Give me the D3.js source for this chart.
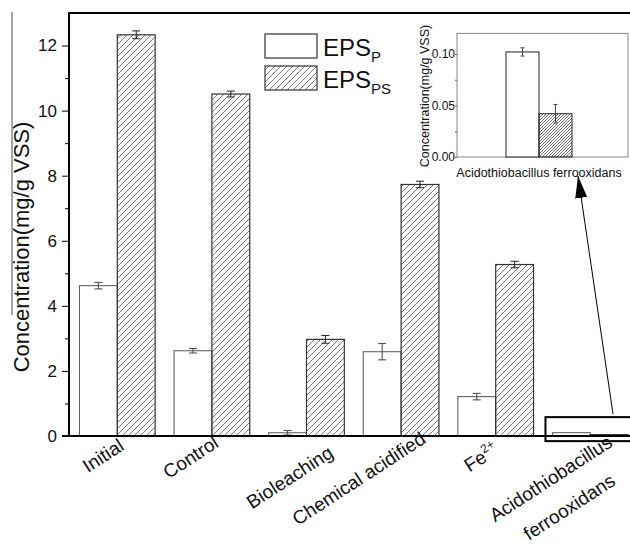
<!DOCTYPE html>
<html>
<head>
<meta charset="utf-8">
<script src="https://cdn.jsdelivr.net/npm/d3@7"></script>
<style>
  body { margin: 0; background: #fff; }
  text { font-family: "Liberation Sans", Arial, sans-serif; fill: #111; }
</style>
</head>
<body>
<svg width="630" height="555"></svg>
<script>
// data
var categories = ["Initial", "Control", "Bioleaching", "Chemical acidified", "Fe2+", "Acidothiobacillus ferrooxidans"];
var epsP   = [4.62, 2.62, 0.10, 2.59, 1.21, 0.102];
var epsPS  = [12.33, 10.51, 2.97, 7.73, 5.27, 0.042];
var errP   = [0.10, 0.07, 0.07, 0.25, 0.10, 0.004];
var errPS  = [0.12, 0.09, 0.12, 0.10, 0.10, 0.009];
var yTicks = [0, 2, 4, 6, 8, 10, 12];
var yMinor = [1, 3, 5, 7, 9, 11];
var insetTicks = [0, 0.05, 0.10];
var insetMinor = [0.025, 0.075];

var svg = d3.select("svg");

// hatch patterns
var defs = svg.append("defs");
defs.append("pattern")
    .attr("id", "hatch")
    .attr("patternUnits", "userSpaceOnUse")
    .attr("width", 6).attr("height", 6)
    .append("path")
    .attr("d", "M-1,1 l2,-2 M0,6 l6,-6 M5,7 l2,-2")
    .attr("stroke", "#555").attr("stroke-width", 0.8);
defs.append("pattern")
    .attr("id", "hatchDense")
    .attr("patternUnits", "userSpaceOnUse")
    .attr("width", 3).attr("height", 3)
    .append("path")
    .attr("d", "M-1,1 l2,-2 M0,3 l3,-3 M2,4 l2,-2")
    .attr("stroke", "#333").attr("stroke-width", 0.7);

// main scales
var x = d3.scaleBand().domain(categories).range([70, 637.6]).paddingInner(0.2).paddingOuter(0.1);
var y = d3.scaleLinear().domain([0, 13]).range([436, 13]);
var half = x.bandwidth() / 2;

var rows = categories.map(function (c, i) {
    return { cat: c, p: epsP[i], ps: epsPS[i], ep: errP[i], eps: errPS[i] };
});

// bars
var g = svg.append("g");
g.selectAll(".barP").data(rows).enter().append("rect")
    .attr("x", function (d) { return x(d.cat); })
    .attr("y", function (d) { return y(d.p); })
    .attr("width", half)
    .attr("height", function (d) { return y(0) - y(d.p); })
    .attr("fill", "#fff").attr("stroke", "#555").attr("stroke-width", 1);
g.selectAll(".barPS").data(rows).enter().append("rect")
    .attr("x", function (d) { return x(d.cat) + half; })
    .attr("y", function (d) { return y(d.ps); })
    .attr("width", half)
    .attr("height", function (d) { return y(0) - y(d.ps); })
    .attr("fill", "url(#hatch)").attr("stroke", "#333").attr("stroke-width", 1.2);

// error bars
function errBars(sel, data, xs, ys, val, err, cap, col) {
    var e = sel.selectAll(null).data(data).enter().append("g")
        .attr("stroke", col).attr("stroke-width", 1);
    e.append("line")
        .attr("x1", xs).attr("x2", xs)
        .attr("y1", function (d) { return ys(val(d) - err(d)); })
        .attr("y2", function (d) { return ys(val(d) + err(d)); });
    [-1, 1].forEach(function (s) {
        e.append("line")
            .attr("x1", function (d) { return xs(d) - cap; })
            .attr("x2", function (d) { return xs(d) + cap; })
            .attr("y1", function (d) { return ys(val(d) + s * err(d)); })
            .attr("y2", function (d) { return ys(val(d) + s * err(d)); });
    });
}
var mainRows = rows.slice(0, 5);
errBars(g, mainRows, function (d) { return x(d.cat) + half / 2; }, y,
    function (d) { return d.p; }, function (d) { return d.ep; }, 4, "#444");
errBars(g, mainRows, function (d) { return x(d.cat) + half * 1.5; }, y,
    function (d) { return d.ps; }, function (d) { return d.eps; }, 4, "#222");

// y axis
var yAxis = svg.append("g").attr("transform", "translate(69,0)")
    .call(d3.axisLeft(y).tickValues(yTicks).tickSize(7).tickPadding(5));
yAxis.select(".domain").attr("stroke-width", 2).attr("d", "M0," + y(13) + "V" + y(0));
yAxis.selectAll("text").style("font-size", "17px").style("font-family", "Liberation Sans, Arial, sans-serif").attr("fill", "#111");
svg.append("g").attr("transform", "translate(69,0)")
    .call(d3.axisLeft(y).tickValues(yMinor).tickSize(4).tickFormat(""))
    .select(".domain").remove();

// x axis line and top frame line
svg.append("line").attr("x1", 62).attr("x2", 630).attr("y1", y(0)).attr("y2", y(0))
    .attr("stroke", "#000").attr("stroke-width", 2);
svg.append("line").attr("x1", 68).attr("x2", 630).attr("y1", y(13)).attr("y2", y(13))
    .attr("stroke", "#000").attr("stroke-width", 2);

// stray grey line at the far left of the figure
svg.append("line").attr("x1", 12).attr("x2", 12).attr("y1", 12).attr("y2", 315)
    .attr("stroke", "#888").attr("stroke-width", 1.5);

// y label
svg.append("text")
    .attr("transform", "translate(29,247) rotate(-90)")
    .attr("text-anchor", "middle")
    .style("font-size", "22px")
    .text("Concentration(mg/g VSS)");

// category labels, rotated; nudges follow the hand-placed labels of the original
var labelNudge = [[8, 449], [8, 446], [28, 456], [26, 442], [4, 453], [-36, 484]];
rows.forEach(function (d, i) {
    var cx = x(d.cat) + x.bandwidth() / 2 + labelNudge[i][0];
    var t = svg.append("text")
        .attr("transform", "translate(" + cx + "," + labelNudge[i][1] + ") rotate(-33)")
        .style("font-size", "19px");
    if (i === 4) {
        t.attr("text-anchor", "end");
        t.append("tspan").text("Fe");
        t.append("tspan").attr("dy", -8).style("font-size", "12px").text("2+");
    } else if (i === 5) {
        t.attr("text-anchor", "middle");
        var parts = d.cat.split(" ");
        t.append("tspan").attr("x", 0).text(parts[0]);
        t.append("tspan").attr("x", 0).attr("dy", 34).text(parts[1]);
    } else {
        t.attr("text-anchor", "end").text(d.cat);
    }
});

// legend
var legend = svg.append("g").attr("transform", "translate(265,34)");
[["P", "#fff"], ["PS", "url(#hatch)"]].forEach(function (s, i) {
    legend.append("rect").attr("x", 0).attr("y", i * 32).attr("width", 52).attr("height", 24)
        .attr("fill", s[1]).attr("stroke", "#333").attr("stroke-width", 1.2);
    var t = legend.append("text").attr("x", 58).attr("y", i * 32 + 22).style("font-size", "24px");
    t.append("tspan").text("EPS");
    t.append("tspan").attr("dy", 6).style("font-size", "15px").text(s[0]);
});

// box around the tiny Acidothiobacillus bars and arrow to the inset
var last = rows[5];
svg.append("rect")
    .attr("x", x(last.cat) - 7).attr("y", y(0.58))
    .attr("width", 100).attr("height", 24)
    .attr("fill", "none").attr("stroke", "#000").attr("stroke-width", 2);
defs.append("marker").attr("id", "arrow")
    .attr("viewBox", "0 0 22 12").attr("refX", 22).attr("refY", 6)
    .attr("markerWidth", 22).attr("markerHeight", 12).attr("markerUnits", "userSpaceOnUse")
    .attr("orient", "auto")
    .append("path").attr("d", "M0,0 L22,6 L0,12 Z").attr("fill", "#000");
svg.append("line")
    .attr("x1", 613).attr("y1", 414).attr("x2", 578).attr("y2", 176)
    .attr("stroke", "#000").attr("stroke-width", 1)
    .attr("marker-end", "url(#arrow)");

// inset
var ix = d3.scaleBand().domain([last.cat]).range([457, 621]);
var iy = d3.scaleLinear().domain([0, 0.12]).range([157, 33.4]);
var ic = ix(last.cat) + ix.bandwidth() / 2;
var ibw = 33;
var inset = svg.append("g");
inset.append("rect").attr("x", 457).attr("y", iy(0.12)).attr("width", 171).attr("height", iy(0) - iy(0.12))
    .attr("fill", "none").attr("stroke", "#888").attr("stroke-width", 1);
inset.append("rect").attr("x", ic - ibw).attr("y", iy(last.p)).attr("width", ibw)
    .attr("height", iy(0) - iy(last.p)).attr("fill", "#fff").attr("stroke", "#222").attr("stroke-width", 1);
inset.append("rect").attr("x", ic).attr("y", iy(last.ps)).attr("width", ibw)
    .attr("height", iy(0) - iy(last.ps)).attr("fill", "url(#hatchDense)").attr("stroke", "#222").attr("stroke-width", 1);
errBars(inset, [last], function () { return ic - ibw / 2; }, iy,
    function (d) { return d.p; }, function (d) { return d.ep; }, 2, "#444");
errBars(inset, [last], function () { return ic + ibw / 2; }, iy,
    function (d) { return d.ps; }, function (d) { return d.eps; }, 2, "#444");
var iAxis = inset.append("g").attr("transform", "translate(457,0)")
    .call(d3.axisLeft(iy).tickValues(insetTicks).tickSize(2).tickPadding(0).tickFormat(d3.format(".2f")));
iAxis.select(".domain").remove();
iAxis.selectAll("line").attr("stroke", "#666");
iAxis.selectAll("text").style("font-size", "12px").style("font-family", "Liberation Sans, Arial, sans-serif").attr("fill", "#111");
inset.append("g").attr("transform", "translate(457,0)")
    .call(d3.axisLeft(iy).tickValues(insetMinor).tickSize(2).tickFormat(""))
    .call(function (a) { a.select(".domain").remove(); a.selectAll("line").attr("stroke", "#666"); });
inset.append("line").attr("x1", ic).attr("x2", ic).attr("y1", iy(0)).attr("y2", iy(0) - 3)
    .attr("stroke", "#444");
inset.append("text")
    .attr("x", ic).attr("y", 177)
    .attr("text-anchor", "middle")
    .style("font-size", "12.5px")
    .text(last.cat);
inset.append("text")
    .attr("transform", "translate(429,96) rotate(-90)")
    .attr("text-anchor", "middle")
    .style("font-size", "12.5px")
    .text("Concentration(mg/g VSS)");
</script>
</body>
</html>
